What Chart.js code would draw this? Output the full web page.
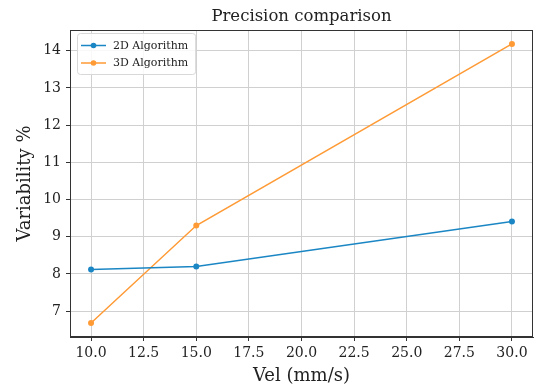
<!DOCTYPE html>
<html lang="en">
  <head>
    <meta charset="UTF-8" />
    <title>Precision comparison</title>
    <style>
      body {
        margin: 0;
        background: #fff;
        overflow: hidden;
      }
      #wrap {
        width: 539px;
        height: 388px;
      }
    </style>
  </head>
  <body>
    <div id="wrap"><canvas id="precisionChart"></canvas></div>

    <script src="https://cdn.jsdelivr.net/npm/chart.js"></script>
    <script>
      const velocities = [10, 15, 30];
      const algorithm2D = [8.12, 8.2, 9.41];
      const algorithm3D = [6.68, 9.3, 14.18];
      const xTicks = [10, 12.5, 15, 17.5, 20, 22.5, 25, 27.5, 30];
      const yTicks = [7, 8, 9, 10, 11, 12, 13, 14];
      const seriesNames = ["2D Algorithm", "3D Algorithm"];
      const seriesColors = ["#1b86c4", "#ff9a35"];
      const chartTitle = "Precision comparison";

      const serif = "'DejaVu Serif', serif";

      function toPoints(values) {
        return velocities.map((v, i) => ({ x: v, y: values[i] }));
      }

      // title centred over the plot area (matplotlib style), not the canvas
      const plotTitle = {
        id: "plotTitle",
        afterDraw(chart) {
          const { ctx, chartArea } = chart;
          ctx.save();
          ctx.font = "16.5px " + serif;
          ctx.fillStyle = "#222";
          ctx.textAlign = "center";
          ctx.textBaseline = "alphabetic";
          ctx.fillText(
            chartTitle,
            (chartArea.left + chartArea.right) / 2,
            chartArea.top - 9
          );
          ctx.restore();
        },
      };

      // black frame round the plot, like matplotlib spines
      const frame = {
        id: "frame",
        beforeDatasetsDraw(chart) {
          const { ctx, chartArea } = chart;
          ctx.save();
          ctx.strokeStyle = "#333";
          ctx.lineWidth = 1;
          ctx.strokeRect(
            chartArea.left + 0.5,
            chartArea.top + 0.5,
            chartArea.right - chartArea.left - 1,
            chartArea.bottom - chartArea.top - 1
          );
          ctx.restore();
        },
      };

      // legend box inside the plot, top left
      const insideLegend = {
        id: "insideLegend",
        afterDraw(chart) {
          const { ctx, chartArea } = chart;
          const sets = chart.data.datasets;
          ctx.save();
          ctx.font = "11px " + serif;
          let maxW = 0;
          sets.forEach((ds) => {
            maxW = Math.max(maxW, ctx.measureText(ds.label).width);
          });
          const bx = chartArea.left + 7;
          const by = chartArea.top + 3;
          const bw = 36 + maxW + 7;
          const bh = 41;
          ctx.beginPath();
          ctx.roundRect(bx + 0.5, by + 0.5, bw, bh, 3);
          ctx.fillStyle = "rgba(255,255,255,0.85)";
          ctx.fill();
          ctx.strokeStyle = "#d8d8d8";
          ctx.lineWidth = 1;
          ctx.stroke();

          sets.forEach((ds, i) => {
            const y = by + 12.5 + i * 17.5;
            ctx.strokeStyle = ds.borderColor;
            ctx.lineWidth = 1.5;
            ctx.beginPath();
            ctx.moveTo(bx + 4, y);
            ctx.lineTo(bx + 29, y);
            ctx.stroke();
            ctx.fillStyle = ds.borderColor;
            ctx.beginPath();
            ctx.arc(bx + 16.5, y, 2.8, 0, Math.PI * 2);
            ctx.fill();
            ctx.fillStyle = "#222";
            ctx.textBaseline = "middle";
            ctx.fillText(ds.label, bx + 36, y + 0.5);
          });
          ctx.restore();
        },
      };

      const ctx = document.getElementById("precisionChart").getContext("2d");
      new Chart(ctx, {
        type: "line",
        data: {
          datasets: [
            {
              label: seriesNames[0],
              data: toPoints(algorithm2D),
              borderColor: seriesColors[0],
              backgroundColor: seriesColors[0],
              borderWidth: 1.5,
              pointRadius: 3,
              pointBorderWidth: 0,
              pointBackgroundColor: seriesColors[0],
              tension: 0,
            },
            {
              label: seriesNames[1],
              data: toPoints(algorithm3D),
              borderColor: seriesColors[1],
              backgroundColor: seriesColors[1],
              borderWidth: 1.5,
              pointRadius: 3,
              pointBorderWidth: 0,
              pointBackgroundColor: seriesColors[1],
              tension: 0,
            },
          ],
        },
        options: {
          responsive: true,
          maintainAspectRatio: false,
          animation: false,
          layout: {
            padding: { top: 30, right: 6, bottom: 0, left: 0 },
          },
          scales: {
            x: {
              type: "linear",
              min: 9,
              max: 31,
              afterBuildTicks: (scale) => {
                scale.ticks = xTicks.map((v) => ({ value: v }));
              },
              afterFit: (scale) => {
                scale.height = 51;
              },
              ticks: {
                callback: (v) => Number(v).toFixed(1),
                font: { family: serif, size: 14 },
                color: "#222",
                padding: 4,
                maxRotation: 0,
                autoSkip: false,
              },
              grid: {
                color: "#d0d0d0",
                tickColor: "#333",
                tickLength: 4,
                lineWidth: 1,
              },
              border: { color: "#333", width: 1 },
              title: {
                display: true,
                text: "Vel (mm/s)",
                font: { family: serif, size: 18 },
                color: "#222",
                padding: { top: 0, bottom: 1 },
              },
            },
            y: {
              type: "linear",
              min: 6.305,
              max: 14.555,
              afterBuildTicks: (scale) => {
                scale.ticks = yTicks.map((v) => ({ value: v }));
              },
              afterFit: (scale) => {
                scale.width = 70;
              },
              ticks: {
                font: { family: serif, size: 14 },
                color: "#222",
                padding: 5,
              },
              grid: {
                color: "#d0d0d0",
                tickColor: "#333",
                tickLength: 4,
                lineWidth: 1,
              },
              border: { color: "#333", width: 1 },
              title: {
                display: true,
                text: "Variability %",
                font: { family: serif, size: 18 },
                color: "#222",
                padding: { top: 15, bottom: 0 },
              },
            },
          },
          plugins: {
            legend: { display: false },
            tooltip: { enabled: false },
          },
        },
        plugins: [frame, insideLegend, plotTitle],
      });
    </script>
  </body>
</html>
